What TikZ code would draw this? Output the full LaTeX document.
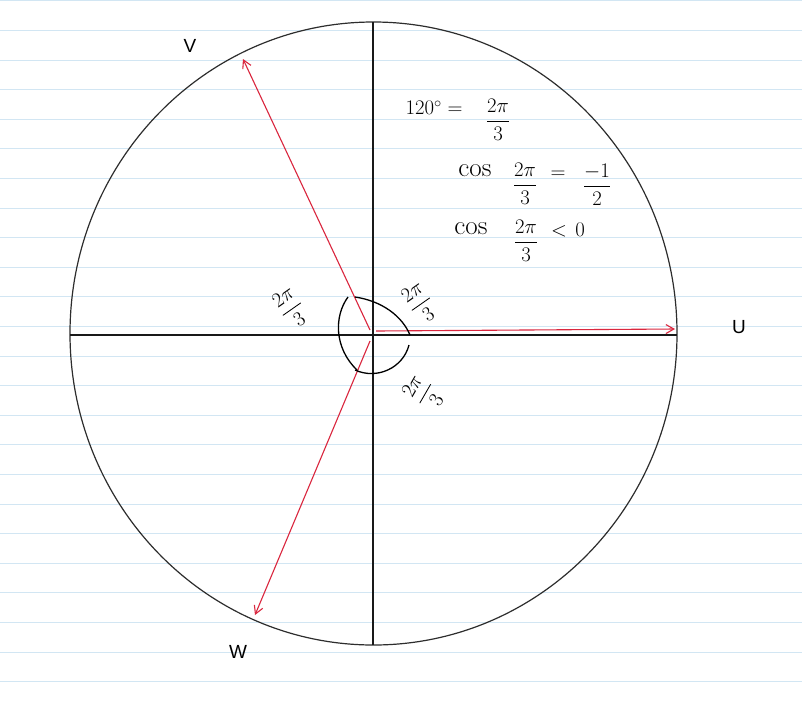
\documentclass[tikz,border=0pt]{standalone}
\usepackage{amsmath}
\usepackage{fontspec}
\newfontfamily\labfont{Liberation Sans}
\usetikzlibrary{arrows.meta}
\definecolor{ruled}{RGB}{210,230,243}
\definecolor{vecred}{RGB}{218,38,62}
\definecolor{circ}{RGB}{45,45,45}
\begin{document}
\begin{tikzpicture}[x=1pt,y=-1pt,
  ruledline/.style={draw=ruled,line width=0.9pt},
  axis/.style={draw=black!90,line width=1.3pt},
  rim/.style={draw=circ,line width=1.2pt},
  vec/.style={draw=vecred,line width=1.1pt,-{Straight Barb[length=8pt,width=9pt]}},
  angmark/.style={draw=black,line width=1.3pt},
  letter/.style={font=\labfont\fontsize{19}{22}\selectfont,inner sep=0pt},
  hand/.style={font=\fontsize{22}{26}\selectfont,inner sep=0pt},
  handcos/.style={font=\fontsize{27}{30}\selectfont,inner sep=0pt},
  anglab/.style={font=\fontsize{20}{23}\selectfont,inner sep=0pt}]
\useasboundingbox (0,0) rectangle (802,710);
\fill[white] (0,0) rectangle (802,710);
% ruled paper
\foreach \k in {0,...,23}{
  \draw[ruledline] (0,{0.8+29.6*\k}) -- (802,{0.8+29.6*\k});
}
% circle and axes
\coordinate (O) at (373.5,333.5);
\draw[rim] (O) ellipse [x radius=303.5pt, y radius=311.5pt];
\coordinate (Lft) at (70,335);
\coordinate (Rgt) at (677,335);
\coordinate (Top) at (373,22);
\coordinate (Bot) at (373,645);
\draw[axis] (Lft) -- (Rgt);
\draw[axis] (Top) -- (Bot);
% vectors
\coordinate (uS) at (376,331);
\coordinate (uE) at (675,329);
\coordinate (vS) at (370,330);
\coordinate (vE) at (243,59);
\coordinate (wS) at (370,341);
\coordinate (wE) at (255,615);
\draw[vec] (uS) -- (uE);
\draw[vec] (vS) -- (vE);
\draw[vec] (wS) -- (wE);
% angle marks
\coordinate (a1) at (355,297);
\coordinate (a2) at (410,335);
\coordinate (b1) at (409,345);
\coordinate (b2) at (355,370);
\coordinate (c1) at (348,297);
\coordinate (c2) at (357,370);
\draw[angmark] (a1) .. controls (382,301) and (402,316) .. (a2);
\draw[angmark] (b1) .. controls (403,368) and (377,380) .. (b2);
\draw[angmark] (c1) .. controls (334,316) and (334,348) .. (c2);
% letters
\node[letter] (V) at (190,46) {V};
\node[letter] (U) at (739,327) {U};
\node[letter] (W) at (238,652) {W};
% handwritten equations
\node[hand] (e1a) at (434,108) {$120^\circ =$};
\node[hand] (e1b) at (498,120) {$\dfrac{2\pi}{3}$};
\node[handcos] (e2a) at (475,171) {$\cos$};
\node[hand] (e2b) at (525,184) {$\dfrac{2\pi}{3}$};
\node[hand] (e2c) at (558,175) {$=$};
\node[hand] (e2d) at (597,185) {$\dfrac{-1}{2}$};
\node[handcos] (e3a) at (471,229) {$\cos$};
\node[hand] (e3b) at (526,241) {$\dfrac{2\pi}{3}$};
\node[hand] (e3c) at (559,231) {$<$};
\node[hand] (e3d) at (580,230) {$0$};
% angle labels
\node[anglab,rotate=35] (l1) at (291,308) {$\dfrac{2\pi}{3}$};
\node[anglab,rotate=35] (l2) at (420,303) {$\dfrac{2\pi}{3}$};
\node[anglab,rotate=60] (l3) at (424,393) {$\dfrac{2\pi}{3}$};
\end{tikzpicture}
\end{document}
